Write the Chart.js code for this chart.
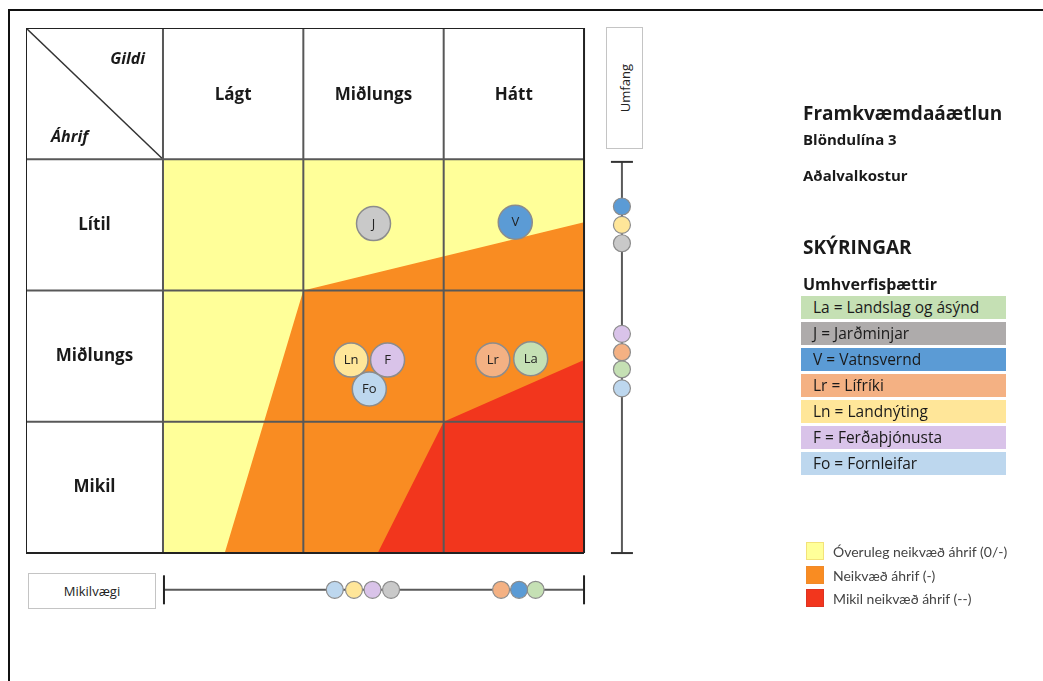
<!DOCTYPE html>
<html lang="is">
<head>
<meta charset="utf-8">
<title>Framkvæmdaáætlun – Blöndulína 3</title>
<script src="https://cdn.jsdelivr.net/npm/chart.js@4.4.1/dist/chart.umd.min.js"></script>
<style>
  html, body { margin: 0; padding: 0; background: #fff; }
  body { width: 1043px; height: 681px; position: relative; overflow: hidden;
         font-family: "Open Sans", Lato, sans-serif; color: #1a1a1a; }
  #frame { position: absolute; left: 8px; top: 9px; width: 1100px; height: 800px; border: 2px solid #111; }
  #matrix { position: absolute; left: 0; top: 0; }
  .box { position: absolute; border: 1px solid #c4c4c4; background: #fff;
         display: flex; align-items: center; justify-content: center; font-size: 13px; color: #222; }
  #umfang span { writing-mode: vertical-rl; transform: rotate(180deg); }
  .head { position: absolute; left: 803px; height: 24px; line-height: 24px; font-weight: bold; white-space: nowrap; }
  .row { position: absolute; left: 801px; width: 193px; height: 23px; line-height: 23px;
         padding-left: 12px; font-size: 15.5px; white-space: nowrap; }
  .zone { position: absolute; left: 806px; height: 20px; }
  .zone i { position: absolute; left: 0; top: 0; width: 18px; height: 18px; box-sizing: border-box; }
  .zone b { position: absolute; left: 27px; top: 0; line-height: 19px; font-weight: normal;
            font-size: 14px; color: #444; white-space: nowrap; font-family: Lato, "Open Sans", sans-serif; }
</style>
</head>
<body>
<div id="frame"></div>
<canvas id="matrix" width="1043" height="681"></canvas>

<div class="box" id="umfang" style="left:606px; top:27px; width:35px; height:120px;"><span>Umfang</span></div>
<div class="box" id="mikil" style="left:28px; top:573px; width:126px; height:34px;">Mikilvægi</div>

<div class="head" style="top:101px; font-size:19px;">Framkvæmdaáætlun</div>
<div class="head" style="top:127px; font-size:15px;">Blöndulína 3</div>
<div class="head" style="top:163px; font-size:15px;">Aðalvalkostur</div>
<div class="head" style="top:235px; font-size:19px;">SKÝRINGAR</div>
<div class="head" style="top:272px; font-size:16px;">Umhverfisþættir</div>
<div id="factorRows"></div>
<div id="zoneRows"></div>

<script>
// columns = Gildi (value), rows = Áhrif (impact)
const colLabels = ["Lágt", "Miðlungs", "Hátt"];
const rowLabels = ["Lítil", "Miðlungs", "Mikil"];

// environmental factors
const factorCodes = ["La", "J", "V", "Lr", "Ln", "F", "Fo"];
const factorNames = ["Landslag og ásýnd", "Jarðminjar", "Vatnsvernd", "Lífríki",
                     "Landnýting", "Ferðaþjónusta", "Fornleifar"];
const gildi      = [2.62, 1.50, 2.51, 2.35, 1.34, 1.60, 1.47];  // position across columns
const ahrif      = [1.52, 0.49, 0.48, 1.53, 1.53, 1.53, 1.75];  // position down the rows
const umfang     = [1.60, 0.64, 0.36, 1.47, 0.50, 1.33, 1.745];
const mikilvaegi = [2.655, 1.625, 2.537, 2.409, 1.361, 1.493, 1.224];

// impact zones (corners in column/row units)
const zoneNames = ["Óveruleg neikvæð áhrif (0/-)", "Neikvæð áhrif (-)", "Mikil neikvæð áhrif (--)"];
const orangeZone = [[0, 0], [3, 0], [3, 3], [0, 3]];
const yellowZone = [[0, 0], [3, 0], [3, 0.48], [1, 1], [0.44, 3], [0, 3]];
const redZone    = [[3, 1.53], [3, 3], [1.53, 3], [2, 2]];

const bubbleColors = ["#c5e0b4", "#c9c9c9", "#5b9bd5", "#f4b183", "#ffe699", "#d9c3e9", "#bdd7ee"];
const rowColors    = ["#c5e0b4", "#aeabab", "#5b9bd5", "#f4b183", "#ffe699", "#d9c3e9", "#bdd7ee"];
const zoneColors   = ["#ffff99", "#f98c22", "#f2361d"];
const zoneBorders  = ["#f3e27a", "#f08a2a", "#dd3322"];

// header column is a bit narrower than the value columns
const X_MIN = -0.976;
const Y_MIN = -1;
// side scales sit just outside the grid, in grid units
const UMFANG_AT = 3.27;
const MIKIL_AT = 3.28;
const X_MAX = 3.47;   // room for the Umfang scale
const Y_MAX = 3.51;   // room for the Mikilvægi scale

const poly = pts => pts.concat([pts[0]]).map(([x, y]) => ({ x, y }));

function zone(pts, color, order) {
  return {
    type: "line", data: poly(pts), fill: "shape", backgroundColor: color,
    borderColor: "transparent", borderWidth: 0, pointRadius: 0, tension: 0, order
  };
}

function segment(a, b, color, order) {
  return {
    type: "line", data: [{ x: a[0], y: a[1] }, { x: b[0], y: b[1] }],
    borderColor: color, borderWidth: 2, pointRadius: 0, order
  };
}

// matrix lines: one header column/row plus the label cells
const gridLines = [];
const nCols = colLabels.length, nRows = rowLabels.length;
for (let i = -1; i <= nCols; i++) {
  const edge = i === -1 || i === nCols;
  const gx = i === -1 ? X_MIN : i;
  gridLines.push(segment([gx, Y_MIN], [gx, nRows], edge ? "#222" : "#585858", edge ? 3 : 4));
}
for (let j = -1; j <= nRows; j++) {
  const edge = j === -1 || j === nRows;
  const gy = j === -1 ? Y_MIN : j;
  gridLines.push(segment([X_MIN, gy], [nCols, gy], edge ? "#222" : "#585858", edge ? 3 : 4));
}

const cellText = {
  id: "cellText",
  afterDraw(chart) {
    const { ctx, scales: { x, y } } = chart;
    const headX = x.getPixelForValue(X_MIN / 2);
    const headY = y.getPixelForValue(Y_MIN / 2);
    ctx.save();
    ctx.fillStyle = "#1a1a1a";
    ctx.textAlign = "center";
    ctx.textBaseline = "middle";
    ctx.font = "bold 17px 'Open Sans', Lato, sans-serif";
    colLabels.forEach((t, i) => ctx.fillText(t, x.getPixelForValue(i + 0.5), headY + 2));
    rowLabels.forEach((t, i) => ctx.fillText(t, headX, y.getPixelForValue(i + 0.5)));

    ctx.font = "italic bold 16px 'Open Sans', Lato, sans-serif";
    ctx.textAlign = "right";
    ctx.fillText("Gildi", x.getPixelForValue(0) - 18, y.getPixelForValue(Y_MIN) + 31);
    ctx.textAlign = "left";
    ctx.fillText("Áhrif", x.getPixelForValue(X_MIN) + 25, y.getPixelForValue(0) - 22);

    // codes inside the bubbles
    const meta = chart.getDatasetMeta(chart.data.datasets.findIndex(d => d.label === "bubbles"));
    ctx.font = "13px 'Open Sans', Lato, sans-serif";
    ctx.textAlign = "center";
    ctx.fillStyle = "#222";
    meta.data.forEach((pt, i) => ctx.fillText(factorCodes[i], pt.x, pt.y + 0.5));
    ctx.restore();
  }
};

new Chart(document.getElementById("matrix"), {
  type: "line",
  data: {
    datasets: [
      zone(orangeZone, zoneColors[1], 30),
      zone(yellowZone, zoneColors[0], 20),
      zone(redZone, zoneColors[2], 10),
      ...gridLines,
      {
        type: "line", data: [{ x: X_MIN, y: Y_MIN }, { x: 0, y: 0 }],
        borderColor: "#333", borderWidth: 1.5, pointRadius: 0, order: 5
      },
      {
        label: "bubbles", type: "scatter",
        data: gildi.map((g, i) => ({ x: g, y: ahrif[i] })),
        pointRadius: 17, backgroundColor: bubbleColors, borderColor: "#8c8c8c", borderWidth: 1.5, order: 1
      },
      {
        type: "line",
        data: [{ x: UMFANG_AT, y: 0.02 }, { x: UMFANG_AT, y: 3 }],
        borderColor: "#5a5a5a", borderWidth: 2,
        pointStyle: "line", pointRadius: 11, pointBorderColor: "#333", pointBorderWidth: 2, order: 4
      },
      {
        type: "scatter",
        data: umfang.map(v => ({ x: UMFANG_AT, y: v })),
        pointRadius: 8.5, backgroundColor: bubbleColors, borderColor: "#8c8c8c", borderWidth: 1.2, order: 2
      },
      {
        type: "line",
        data: [{ x: 0.007, y: MIKIL_AT }, { x: 3, y: MIKIL_AT }],
        borderColor: "#5a5a5a", borderWidth: 2,
        pointStyle: "line", pointRotation: 90, pointRadius: 14.5, pointBorderColor: "#222", pointBorderWidth: 2, order: 4
      },
      {
        type: "scatter",
        data: mikilvaegi.map(v => ({ x: v, y: MIKIL_AT })),
        pointRadius: 8.5, backgroundColor: bubbleColors, borderColor: "#8c8c8c", borderWidth: 1.2, order: 2
      }
    ]
  },
  options: {
    responsive: false,
    animation: false,
    events: [],
    layout: { padding: { left: 26, top: 28, right: 393, bottom: 61 } },
    plugins: { legend: { display: false }, tooltip: { enabled: false } },
    scales: {
      x: { type: "linear", min: X_MIN, max: X_MAX, display: false },
      y: { type: "linear", min: Y_MIN, max: Y_MAX, reverse: true, display: false }
    }
  },
  plugins: [cellText]
});

// side legend rows
const rowsEl = document.getElementById("factorRows");
factorCodes.forEach((c, i) => {
  const d = document.createElement("div");
  d.className = "row";
  d.style.top = (296 + i * 26) + "px";
  d.style.background = rowColors[i];
  d.textContent = c + " = " + factorNames[i];
  rowsEl.appendChild(d);
});

const zonesEl = document.getElementById("zoneRows");
zoneNames.forEach((n, i) => {
  const d = document.createElement("div");
  d.className = "zone";
  d.style.top = (542 + i * 23.5) + "px";
  d.innerHTML = '<i style="background:' + zoneColors[i] + '; border:1px solid ' + zoneBorders[i] + '"></i><b></b>';
  d.querySelector("b").textContent = n;
  zonesEl.appendChild(d);
});
</script>
</body>
</html>
